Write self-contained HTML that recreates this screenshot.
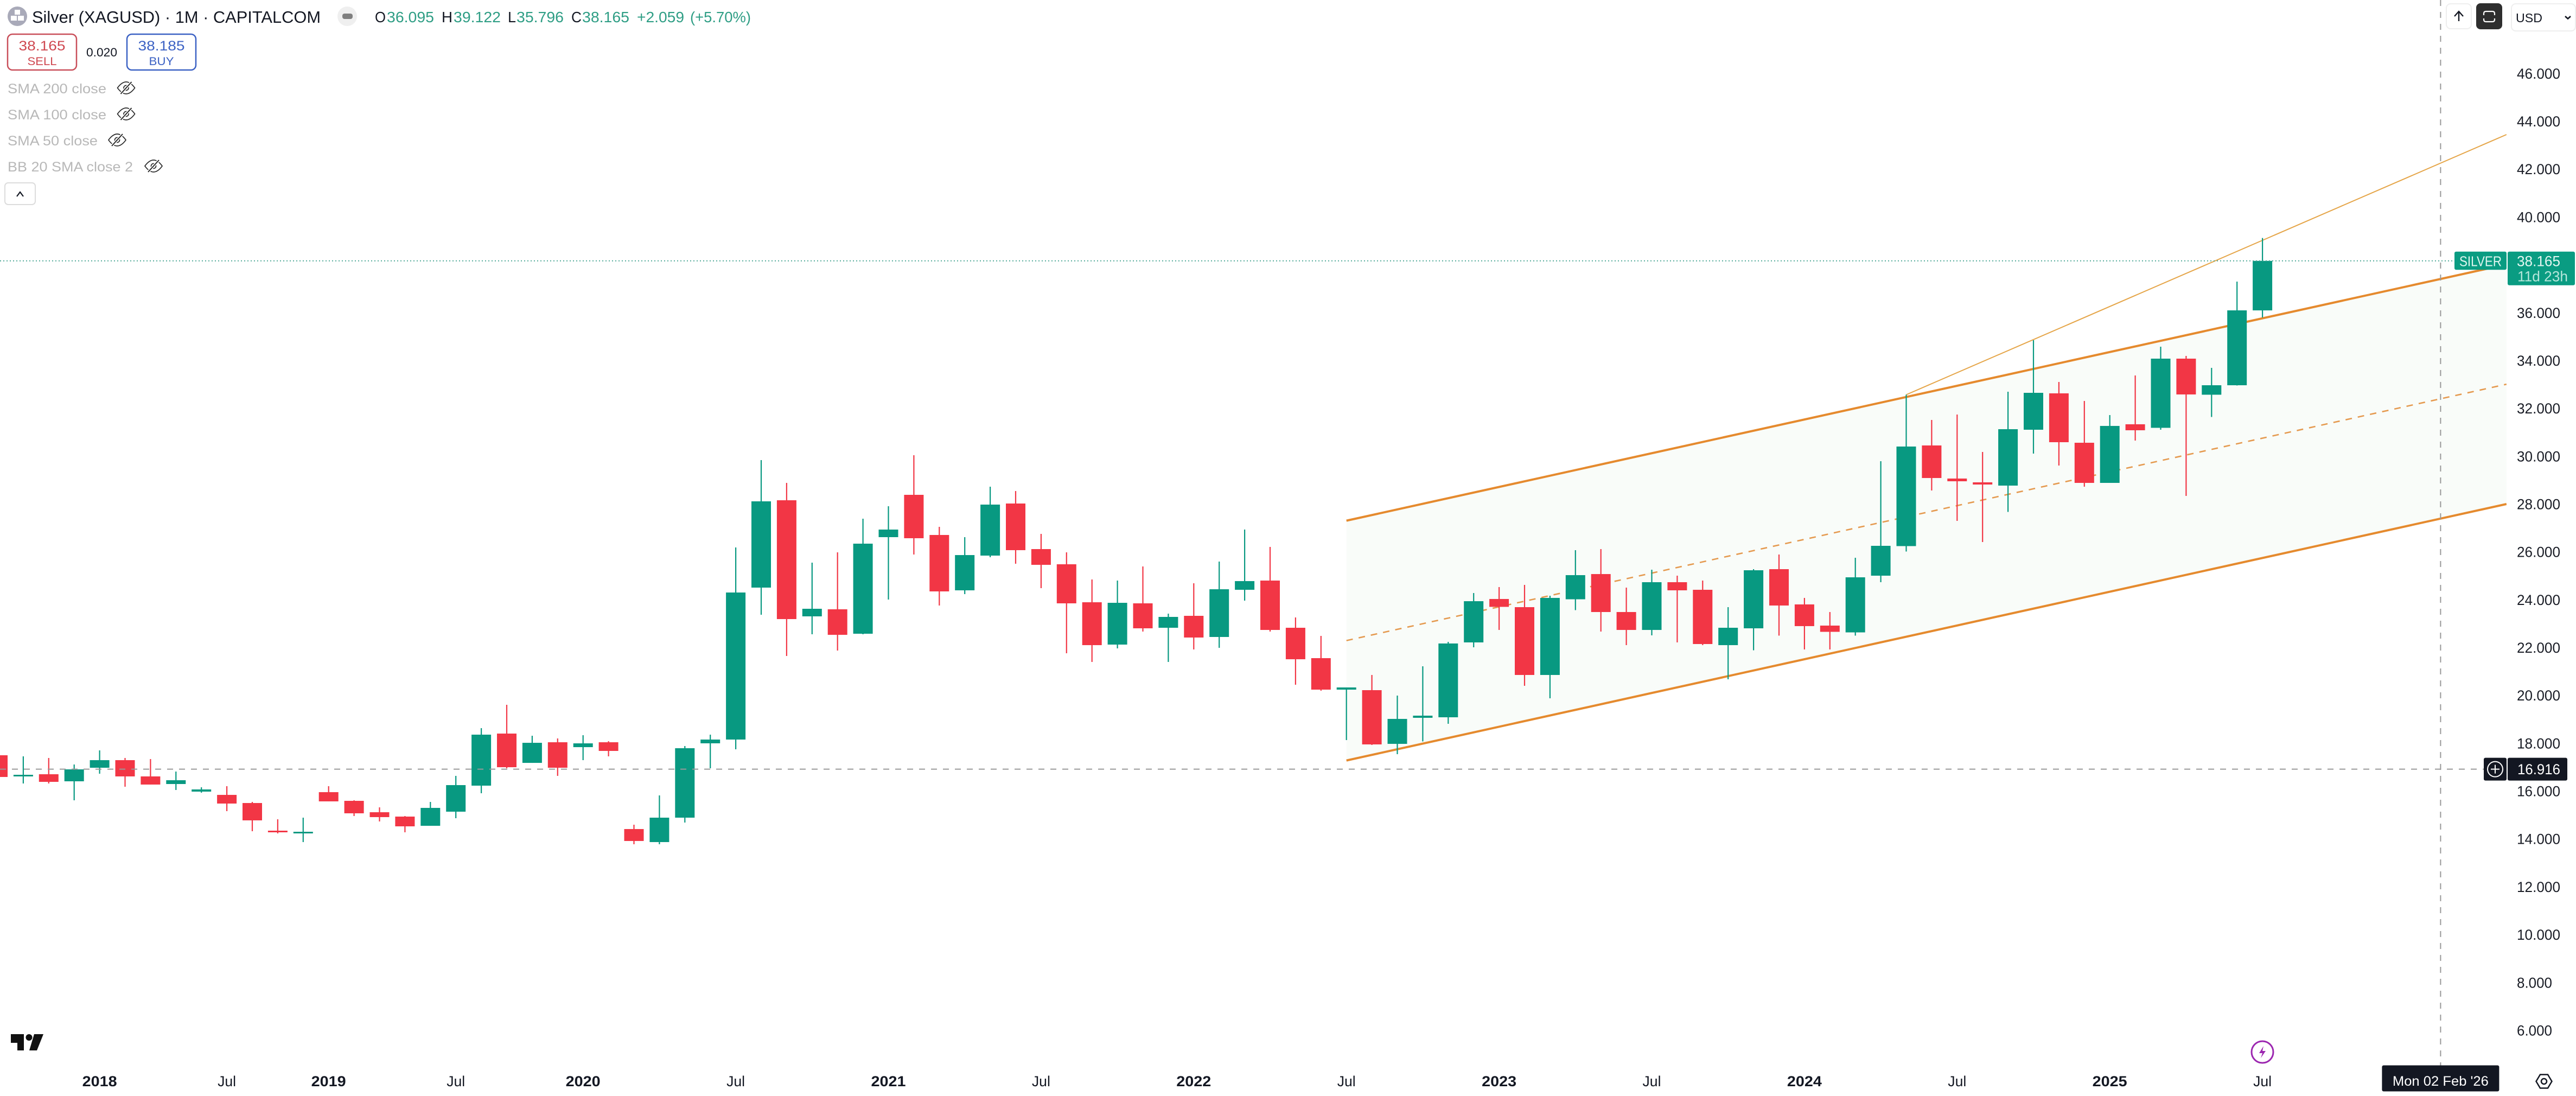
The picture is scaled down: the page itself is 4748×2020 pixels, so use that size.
<!DOCTYPE html>
<html lang="en">
<head>
<meta charset="utf-8">
<title>Silver (XAGUSD) 1M chart</title>
<style>
html,body{margin:0;padding:0;background:#fff;width:4748px;height:2020px;overflow:hidden}
svg{display:block;font-family:"Liberation Sans",sans-serif}
</style>
</head>
<body>
<svg id="chart" xmlns="http://www.w3.org/2000/svg" width="4748" height="2020" viewBox="0 0 4748 2020">
  <defs><clipPath id="pane"><rect x="0" y="0" width="4620" height="1960"/></clipPath></defs>
  <rect x="0" y="0" width="4748" height="2020" fill="#ffffff"/>
  <g id="drawings" clip-path="url(#pane)"></g>
  <g id="candles" clip-path="url(#pane)"></g>
  <g id="overlays"></g>
  <g id="yaxis"></g>
  <g id="xaxis"></g>
  <g id="labels"></g>

  <g>
    <g>
      <circle cx="32" cy="30" r="18" fill="#a9aab9"/>
      <rect x="27" y="18" width="10" height="9" fill="#fff"/>
      <rect x="20" y="29" width="11" height="9" fill="#fff"/>
      <rect x="33" y="29" width="11" height="9" fill="#fff"/>
    </g>
    <text x="59" y="42" font-size="31" fill="#131722" textLength="532" lengthAdjust="spacingAndGlyphs">Silver (XAGUSD) · 1M · CAPITALCOM</text>
    <g>
      <circle cx="640" cy="30" r="18" fill="#efefef"/>
      <rect x="631" y="25" width="19" height="10" rx="4" fill="#7f7f7f"/>
    </g>
    <g font-size="28">
      <text x="691" y="41" fill="#131722" textLength="20" lengthAdjust="spacingAndGlyphs">O</text>
      <text x="713" y="41" fill="#2f9e85" textLength="87" lengthAdjust="spacingAndGlyphs">36.095</text>
      <text x="814" y="41" fill="#131722" textLength="20" lengthAdjust="spacingAndGlyphs">H</text>
      <text x="836" y="41" fill="#2f9e85" textLength="87" lengthAdjust="spacingAndGlyphs">39.122</text>
      <text x="936" y="41" fill="#131722" textLength="15" lengthAdjust="spacingAndGlyphs">L</text>
      <text x="952" y="41" fill="#2f9e85" textLength="87" lengthAdjust="spacingAndGlyphs">35.796</text>
      <text x="1053" y="41" fill="#131722" textLength="19" lengthAdjust="spacingAndGlyphs">C</text>
      <text x="1073" y="41" fill="#2f9e85" textLength="87" lengthAdjust="spacingAndGlyphs">38.165</text>
      <text x="1174" y="41" fill="#2f9e85" textLength="87" lengthAdjust="spacingAndGlyphs">+2.059</text>
      <text x="1272" y="41" fill="#2f9e85" textLength="112" lengthAdjust="spacingAndGlyphs">(+5.70%)</text>
    </g>
  </g>

  <g>
    <rect x="14" y="63" width="127" height="66" rx="9" fill="#fff" stroke="#c94f5a" stroke-width="2.5"/>
    <text x="77.5" y="93" text-anchor="middle" font-size="25" fill="#cf4850" textLength="86" lengthAdjust="spacingAndGlyphs">38.165</text>
    <text x="77.5" y="120" text-anchor="middle" font-size="21" fill="#cf4850" textLength="54" lengthAdjust="spacingAndGlyphs">SELL</text>
  </g>
  <text x="159" y="104" font-size="22" fill="#131722" textLength="57" lengthAdjust="spacingAndGlyphs">0.020</text>
  <g>
    <rect x="234" y="63" width="127" height="66" rx="9" fill="#fff" stroke="#3c62c4" stroke-width="2.5"/>
    <text x="297.5" y="93" text-anchor="middle" font-size="25" fill="#3c62c4" textLength="86" lengthAdjust="spacingAndGlyphs">38.185</text>
    <text x="297.5" y="120" text-anchor="middle" font-size="21" fill="#3c62c4" textLength="46" lengthAdjust="spacingAndGlyphs">BUY</text>
  </g>

  <g font-size="25" fill="#b8b8b8">
    <text x="14" y="172" textLength="182" lengthAdjust="spacingAndGlyphs">SMA 200 close</text>
    <text x="14" y="220" textLength="182" lengthAdjust="spacingAndGlyphs">SMA 100 close</text>
    <text x="14" y="268" textLength="166" lengthAdjust="spacingAndGlyphs">SMA 50 close</text>
    <text x="14" y="316" textLength="231" lengthAdjust="spacingAndGlyphs">BB 20 SMA close 2</text>
  </g>
  <g fill="none" stroke="#2a2a2a" stroke-width="1.7">
    <g transform="translate(232.5 162)"><path d="M-16 0 Q0 -22 16 0 Q0 22 -16 0Z"/><circle r="4.5"/><path d="M-10 11 L10 -11" stroke="#fff" stroke-width="5"/><path d="M-10 11 L10 -11" stroke-width="2"/></g>
    <g transform="translate(232.5 210)"><path d="M-16 0 Q0 -22 16 0 Q0 22 -16 0Z"/><circle r="4.5"/><path d="M-10 11 L10 -11" stroke="#fff" stroke-width="5"/><path d="M-10 11 L10 -11" stroke-width="2"/></g>
    <g transform="translate(216 258)"><path d="M-16 0 Q0 -22 16 0 Q0 22 -16 0Z"/><circle r="4.5"/><path d="M-10 11 L10 -11" stroke="#fff" stroke-width="5"/><path d="M-10 11 L10 -11" stroke-width="2"/></g>
    <g transform="translate(283 306)"><path d="M-16 0 Q0 -22 16 0 Q0 22 -16 0Z"/><circle r="4.5"/><path d="M-10 11 L10 -11" stroke="#fff" stroke-width="5"/><path d="M-10 11 L10 -11" stroke-width="2"/></g>
  </g>
  <g>
    <rect x="9" y="337" width="56" height="40" rx="6" fill="#fff" stroke="#dcdcdc" stroke-width="2"/>
    <path d="M31 362 L37 354 L43 362" fill="none" stroke="#131722" stroke-width="2.2"/>
  </g>

  <g>
    <rect x="4509" y="7" width="46" height="46" rx="8" fill="#fff" stroke="#eeeeee" stroke-width="2"/>
    <path d="M4532 39 L4532 21 M4524 30 L4532 21 L4540 30" fill="none" stroke="#131722" stroke-width="2.4"/>
  </g>
  <g>
    <rect x="4564" y="6" width="48" height="48" rx="8" fill="#2e2e2e"/>
    <path d="M4578 28 V25 Q4578 21 4582 21 H4594 Q4598 21 4598 25 V28 M4578 34 V36 Q4578 40 4582 40 H4594 Q4598 40 4598 36 V34" fill="none" stroke="#fff" stroke-width="2.2"/>
  </g>
  <g>
    <rect x="4629" y="7" width="118" height="50" rx="8" fill="#fff" stroke="#eeeeee" stroke-width="2"/>
    <text x="4637" y="41" font-size="23" fill="#131722" textLength="49" lengthAdjust="spacingAndGlyphs">USD</text>
    <path d="M4728 30 L4733 34.5 L4738 30" fill="none" stroke="#131722" stroke-width="2.6"/>
  </g>

  <g fill="#111111">
    <path d="M20 1906 H44 V1936 H32 V1922 H20 Z"/>
    <circle cx="53.5" cy="1912" r="6"/>
    <path d="M63 1906 H80 L68 1936 H54 Z"/>
  </g>
  <g>
    <circle cx="4170" cy="1939" r="20" fill="#fff" stroke="#9c27b0" stroke-width="3"/>
    <path d="M4172 1928 L4164 1941 L4170 1941 L4167 1950 L4176 1937 L4170 1937 Z" fill="#9c27b0"/>
  </g>
  <g fill="none" stroke="#131722" stroke-width="2.5">
    <path d="M4674.5 1993 L4682 1980.5 H4696 L4703.5 1993 L4696 2005.5 H4682 Z"/>
    <circle cx="4689" cy="1993" r="5"/>
  </g>
</svg>

<script>
// Chart data: prices are USD, slots are candle positions along the time scale
const opens = [17.498,16.614,16.705,16.410,16.977,17.294,16.614,16.296,15.979,15.842,15.502,14.346,14.255,15.956,15.593,15.117,14.935,14.550,15.140,16.228,18.405,17.180,18.042,17.838,18.042,14.414,13.869,14.890,17.998,18.155,24.507,28.158,23.305,23.600,22.579,26.616,28.385,26.707,24.393,25.845,28.022,26.117,25.482,23.894,22.125,23.849,22.828,23.327,22.443,24.416,24.801,22.828,21.558,20.242,20.220,17.975,19.064,19.086,22.216,24.031,23.690,20.855,24.019,25.073,23.486,22.737,24.733,24.416,22.102,22.805,25.278,23.804,22.919,22.635,25.005,26.242,30.449,29.066,28.907,28.771,31.106,32.627,30.562,28.884,31.334,31.186,34.078,32.570,32.966,36.095];
const highs = [17.498,17.453,17.385,17.113,17.703,17.385,17.340,16.818,16.160,16.206,15.548,14.822,14.890,16.206,15.616,15.321,14.958,15.548,16.637,18.632,19.608,18.314,18.201,18.337,18.087,14.595,15.820,17.884,18.360,26.185,29.837,28.884,25.550,25.981,27.387,27.908,30.041,27.047,26.616,28.725,28.544,26.752,25.981,24.846,24.801,25.391,23.418,24.688,25.595,26.933,26.208,23.259,22.488,20.333,20.855,19.993,21.218,22.239,24.280,24.529,24.620,24.166,26.072,26.117,24.507,25.255,25.005,24.801,23.690,25.278,25.890,24.076,23.486,25.754,29.791,32.570,31.515,31.742,30.177,32.694,34.849,33.103,32.308,31.719,33.375,34.577,34.191,33.692,37.299,39.122];
const lows = [16.591,16.319,16.319,15.616,16.727,16.183,16.274,16.047,15.934,15.162,14.323,14.232,13.869,15.571,14.958,14.731,14.278,14.550,14.867,15.911,16.954,17.180,16.637,17.294,17.453,13.779,13.779,14.686,16.954,17.747,23.372,21.649,22.556,21.875,22.556,24.007,25.890,23.758,24.234,25.776,25.505,24.483,21.762,21.399,21.966,22.669,21.399,21.921,21.989,23.962,22.669,20.446,20.197,18.133,17.929,17.544,18.077,18.814,22.012,22.738,20.402,19.879,23.566,22.669,22.102,22.510,22.216,22.102,20.673,21.887,22.500,21.921,21.921,22.500,24.733,26.015,28.566,27.296,26.412,27.670,30.109,29.610,28.725,28.884,30.653,31.106,28.339,31.640,32.955,35.796];
const closes = [16.591,16.682,16.387,16.909,17.294,16.614,16.274,16.455,16.070,15.480,14.777,14.300,14.300,15.571,15.072,14.913,14.527,15.298,16.251,18.360,16.999,18.019,16.977,17.996,17.680,13.915,14.890,17.793,18.155,24.302,28.113,23.191,23.622,22.533,26.344,26.933,26.571,24.348,25.867,27.977,26.072,25.459,23.849,22.102,23.871,22.805,23.282,22.420,24.438,24.779,22.737,21.512,20.242,20.333,17.952,19.018,19.154,22.171,23.939,23.702,20.855,24.076,25.028,23.486,22.737,24.733,24.393,22.148,22.828,25.232,23.758,22.897,22.658,24.937,26.253,30.404,29.088,28.952,28.816,31.129,32.649,30.585,28.884,31.265,31.084,34.078,32.581,32.966,36.096,38.165];

const priceTicks = [46,44,42,40,38,36,34,32,30,28,26,24,22,20,18,16,14,12,10,8,6];
const timeTickSlots = [4,9,13,18,23,29,35,41,47,53,59,65,71,77,83,89];
const timeTickLabels = ["2018","Jul","2019","Jul","2020","Jul","2021","Jul","2022","Jul","2023","Jul","2024","Jul","2025","Jul"];

const channelSlots = [53, 98.59];
const channelUpper = [27.305, 38.017];
const channelLower = [17.280, 28.000];
const trendSlots = [75, 98.59];
const trendPrices = [32.57, 43.445];

const lastPrice = 38.165;
const cursorPrice = 16.916;
const cursorSlot = 96;

const NS = 'http://www.w3.org/2000/svg';
const xAt = function (slot) { return -4 + 46.9 * slot; };
const yAt = function (price) { return 2163.5 - 44.09 * price; };
const GREEN = '#089981';
const RED = '#f23645';

function mk(tag, parent, attrs, text) {
  const el = document.createElementNS(NS, tag);
  for (const k in attrs) el.setAttribute(k, attrs[k]);
  if (text !== undefined) el.textContent = text;
  parent.appendChild(el);
  return el;
}

const drawings = document.getElementById('drawings');
const fillPts = [
  xAt(channelSlots[0]) + ',' + yAt(channelUpper[0]),
  xAt(channelSlots[1]) + ',' + yAt(channelUpper[1]),
  xAt(channelSlots[1]) + ',' + yAt(channelLower[1]),
  xAt(channelSlots[0]) + ',' + yAt(channelLower[0])
].join(' ');
const chFill = mk('polygon', drawings, { points: fillPts, fill: '#f9fcf9' });



const ORANGE = '#e58a2e';
const chUp = mk('line', drawings, { x1: xAt(channelSlots[0]), y1: yAt(channelUpper[0]), x2: xAt(channelSlots[1]), y2: yAt(channelUpper[1]), stroke: ORANGE, 'stroke-width': 4 });


const chLow = mk('line', drawings, { x1: xAt(channelSlots[0]), y1: yAt(channelLower[0]), x2: xAt(channelSlots[1]), y2: yAt(channelLower[1]), stroke: ORANGE, 'stroke-width': 4 });


const chMid = mk('line', drawings, { x1: xAt(channelSlots[0]), y1: yAt((channelUpper[0] + channelLower[0]) / 2), x2: xAt(channelSlots[1]), y2: yAt((channelUpper[1] + channelLower[1]) / 2), stroke: '#e59a50', 'stroke-width': 2.6, 'stroke-dasharray': '12 11' });


const trend = mk('line', drawings, { x1: xAt(trendSlots[0]), y1: yAt(trendPrices[0]), x2: xAt(trendSlots[1]), y2: yAt(trendPrices[1]), stroke: '#e5a548', 'stroke-width': 2 });



const candles = document.getElementById('candles');
closes.forEach(function (close, i) {
  const open = opens[i];
  const up = close >= open;
  const col = up ? GREEN : RED;
  const x = xAt(i);
  const top = yAt(Math.max(open, close));
  const bot = yAt(Math.min(open, close));
  const g = mk('g', candles, {});
  
  
  const wick = mk('line', g, { x1: x, x2: x, y1: yAt(highs[i]), y2: yAt(lows[i]), stroke: col, 'stroke-width': 2.2 });
  
  
  const body = mk('rect', g, { x: x - 18, y: top, width: 36, height: Math.max(bot - top, 3), fill: col });
  
  
});

const overlays = document.getElementById('overlays');
const lastLine = mk('line', overlays, { x1: 0, x2: 4524, y1: yAt(lastPrice), y2: yAt(lastPrice), stroke: '#4fa897', 'stroke-width': 2, 'stroke-dasharray': '2 4' });


const cursorH = mk('line', overlays, { x1: 0, x2: 4578, y1: yAt(cursorPrice), y2: yAt(cursorPrice), stroke: '#999999', 'stroke-width': 2, 'stroke-dasharray': '11 11' });


const cursorV = mk('line', overlays, { x1: xAt(cursorSlot), x2: xAt(cursorSlot), y1: 0, y2: 1964, stroke: '#999999', 'stroke-width': 2, 'stroke-dasharray': '11 11' });



const yaxis = document.getElementById('yaxis');
priceTicks.forEach(function (p) {
  const label = p.toFixed(3);
  const t = mk('text', yaxis, { x: 4639, y: yAt(p) + 9.5, 'font-size': 26.5, fill: '#1a1d26', textLength: label.length === 6 ? 80 : 65, lengthAdjust: 'spacingAndGlyphs' }, label);
  
  
});

const xaxis = document.getElementById('xaxis');
timeTickSlots.forEach(function (slot, i) {
  const isYear = timeTickLabels[i] !== 'Jul';
  const t = mk('text', xaxis, { x: xAt(slot), y: 2002, 'text-anchor': 'middle', 'font-size': 26.5, 'font-weight': isYear ? 'bold' : 'normal', fill: '#131722', textLength: isYear ? 64 : 34, lengthAdjust: 'spacingAndGlyphs' }, timeTickLabels[i]);
  
  
});

const labels = document.getElementById('labels');
const yLast = yAt(lastPrice);
const silverTag = mk('rect', labels, { x: 4524, y: yLast - 17, width: 96, height: 33.5, rx: 3, fill: '#0a9c82' });


const silverTxt = mk('text', labels, { x: 4533, y: yLast + 9.5, 'font-size': 26, fill: '#dff5ef', textLength: 78, lengthAdjust: 'spacingAndGlyphs' }, 'SILVER');


const lastBox = mk('rect', labels, { x: 4622, y: yLast - 17, width: 124, height: 62, rx: 3, fill: '#0a9c82' });


const lastTxt = mk('text', labels, { x: 4639, y: yLast + 9.5, 'font-size': 26.5, fill: '#e4f6f1', textLength: 80, lengthAdjust: 'spacingAndGlyphs' }, lastPrice.toFixed(3));


const countdown = mk('text', labels, { x: 4640, y: yLast + 37.5, 'font-size': 26.5, fill: '#b6e6db', textLength: 93, lengthAdjust: 'spacingAndGlyphs' }, '11d 23h');



const yCur = yAt(cursorPrice);
const plusGroup = mk('g', labels, {});


mk('rect', plusGroup, { x: 4578, y: yCur - 21, width: 42, height: 42, rx: 3, fill: '#131722' });
mk('circle', plusGroup, { cx: 4599, cy: yCur, r: 14, fill: 'none', stroke: '#ffffff', 'stroke-width': 2 });
mk('path', plusGroup, { d: 'M4591 ' + yCur + ' H4607 M4599 ' + (yCur - 8) + ' V' + (yCur + 8), stroke: '#ffffff', 'stroke-width': 2, fill: 'none' });
const curBox = mk('rect', labels, { x: 4622, y: yCur - 21, width: 110, height: 42, rx: 3, fill: '#131722' });


const curTxt = mk('text', labels, { x: 4640, y: yCur + 9.5, 'font-size': 26.5, fill: '#ffffff', textLength: 79, lengthAdjust: 'spacingAndGlyphs' }, cursorPrice.toFixed(3));



const dateBox = mk('rect', labels, { x: xAt(cursorSlot) - 108, y: 1963.5, width: 216, height: 48, rx: 3, fill: '#131722' });


const dateTxt = mk('text', labels, { x: xAt(cursorSlot), y: 2001, 'text-anchor': 'middle', 'font-size': 25, fill: '#ffffff', textLength: 177, lengthAdjust: 'spacingAndGlyphs' }, "Mon 02 Feb '26");


</script>
</body>
</html>
